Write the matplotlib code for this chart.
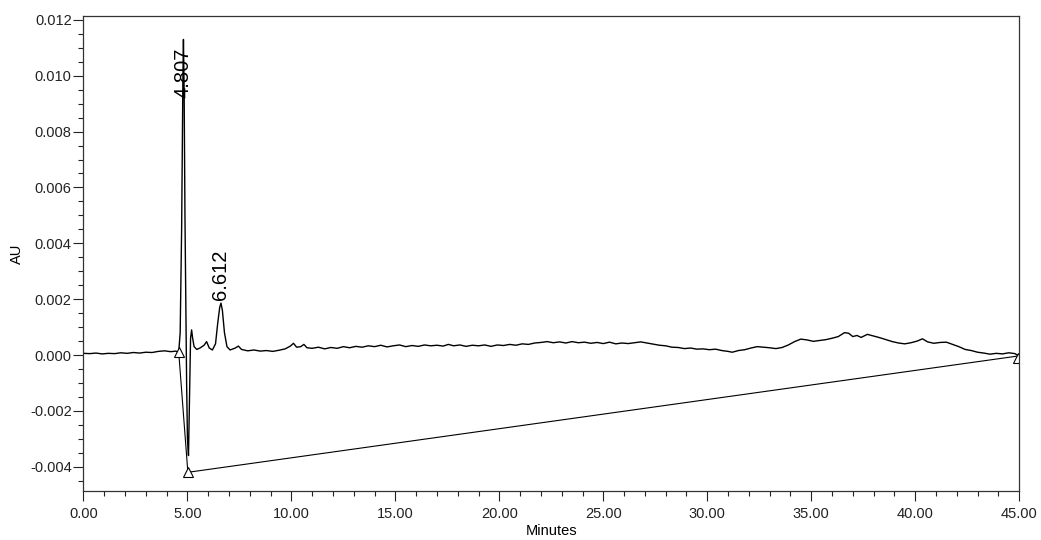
# chromatogram recreation - AU vs minutes
import matplotlib
matplotlib.use("Agg")
import matplotlib.pyplot as plt
from matplotlib.ticker import MultipleLocator, FormatStrFormatter

plt.rcParams['font.family'] = ['Liberation Sans', 'DejaVu Sans']

# trace (minutes, AU)
time_min = [0.0, 0.3, 0.6, 0.9, 1.2, 1.5, 1.8, 2.1, 2.4, 2.7, 3.0, 3.3, 3.6, 3.9, 4.2, 4.45,
            4.50, 4.58, 4.65, 4.72, 4.78, 4.807, 4.84, 4.88, 4.92, 4.96, 5.00, 5.05, 5.10,
            5.15, 5.20, 5.25, 5.32, 5.45, 5.60, 5.80, 5.92, 6.05, 6.20, 6.35, 6.45, 6.55,
            6.612, 6.68, 6.78, 6.90, 7.05, 7.30, 7.45, 7.60, 7.9, 8.2, 8.5, 8.8, 9.1, 9.4,
            9.7, 9.95, 10.1, 10.25, 10.45, 10.6, 10.75, 11.0, 11.3, 11.6, 11.9, 12.2, 12.5,
            12.8, 13.1, 13.4, 13.7, 14.0, 14.3, 14.6, 14.9, 15.2, 15.5, 15.8, 16.1, 16.4,
            16.7, 17.0, 17.3, 17.55, 17.8, 18.1, 18.4, 18.7, 19.0, 19.3, 19.6, 19.9, 20.2,
            20.5, 20.8, 21.1, 21.4, 21.7, 22.0, 22.3, 22.6, 22.9, 23.2, 23.5, 23.8, 24.1,
            24.4, 24.7, 25.0, 25.3, 25.6, 25.9, 26.2, 26.5, 26.8, 27.1, 27.4, 27.7, 28.0,
            28.3, 28.6, 28.9, 29.2, 29.5, 29.8, 30.1, 30.4, 30.7, 31.0, 31.2, 31.5, 31.8,
            32.1, 32.4, 32.7, 33.0, 33.3, 33.6, 33.9, 34.2, 34.5, 34.8, 35.1, 35.4, 35.7,
            36.0, 36.3, 36.6, 36.8, 37.0, 37.2, 37.4, 37.7, 38.0, 38.3, 38.6, 38.9, 39.2,
            39.5, 39.8, 40.1, 40.35, 40.6, 40.9, 41.2, 41.5, 41.8, 42.1, 42.4, 42.7, 43.0,
            43.3, 43.6, 43.9, 44.2, 44.5, 44.8, 45.0]
au = [0.00006, 0.00005, 0.00007, 0.00004, 0.00006, 0.00005, 0.00008, 0.00006, 0.00009,
      0.00007, 0.00010, 0.00009, 0.00013, 0.00015, 0.00012, 0.00014,
      0.00012, 0.00010, 0.0008, 0.0045, 0.0098, 0.0113, 0.0095, 0.0050, 0.0020, -0.0010,
      -0.0030, -0.0036, -0.0015, 0.0006, 0.0009, 0.0006, 0.0003, 0.0002, 0.00025,
      0.00035, 0.00048, 0.00025, 0.00018, 0.0004, 0.0011, 0.0017, 0.00186, 0.0016,
      0.0008, 0.0003, 0.00018, 0.00025, 0.00032, 0.0002, 0.00015, 0.00018, 0.00014,
      0.00016, 0.00013, 0.00017, 0.00022, 0.00032, 0.00042, 0.00028, 0.00030, 0.00038,
      0.00026, 0.00024, 0.00028, 0.00022, 0.00027, 0.00024, 0.00030, 0.00026, 0.00031,
      0.00028, 0.00033, 0.00030, 0.00035, 0.00029, 0.00033, 0.00036, 0.00030, 0.00034,
      0.00031, 0.00036, 0.00033, 0.00035, 0.00032, 0.00038, 0.00033, 0.00036, 0.00031,
      0.00035, 0.00033, 0.00036, 0.00031, 0.00036, 0.00034, 0.00038, 0.00035, 0.00040,
      0.00038, 0.00043, 0.00045, 0.00048, 0.00044, 0.00047, 0.00043, 0.00048, 0.00044,
      0.00046, 0.00042, 0.00045, 0.00041, 0.00046, 0.00040, 0.00043, 0.00041, 0.00044,
      0.00047, 0.00043, 0.00039, 0.00035, 0.00033, 0.00028, 0.00027, 0.00023, 0.00025,
      0.00021, 0.00022, 0.00019, 0.00021, 0.00016, 0.00013, 0.00010, 0.00016, 0.00019,
      0.00025, 0.00030, 0.00028, 0.00026, 0.00023, 0.00027, 0.00036, 0.00048, 0.00057,
      0.00054, 0.00049, 0.00052, 0.00055, 0.00060, 0.00066, 0.00080, 0.00078, 0.00066,
      0.00070, 0.00063, 0.00074, 0.00068, 0.00062, 0.00055, 0.00048, 0.00043, 0.00040,
      0.00044, 0.00050, 0.00058, 0.00047, 0.00042, 0.00045, 0.00046, 0.00038, 0.00030,
      0.00020, 0.00016, 0.00010, 0.00007, 0.00003, 0.00006, 0.00004, 0.00008, 0.00005,
      -0.00004]

# integration baseline (start / end markers)
base_t = [4.58, 5.02, 45.0]
base_au = [0.00010, -0.0042, -0.00003]
marker_t = [4.58, 5.02, 44.95]
marker_au = [0.00010, -0.0042, -0.00012]

peak_times = [4.807, 6.612]
peak_labels = ["4.807", "6.612"]
label_y = [0.0110, 0.00196]

fig = plt.figure(figsize=(10.41, 5.40), dpi=100)
ax = fig.add_axes([0.0802, 0.0907, 0.8988, 0.8797])

ax.plot(time_min, au, color='black', lw=1.0)
ax.plot(base_t, base_au, color='black', lw=0.8)
ax.plot(marker_t, marker_au, linestyle='none', marker='^', ms=7,
        mfc='white', mec='black', mew=0.8)

# peak labels, rotated like in the software output
ax.text(peak_times[0], label_y[0], peak_labels[0], rotation=90,
        ha='center', va='top', fontsize=14.5)
ax.text(peak_times[1], label_y[1], peak_labels[1], rotation=90,
        ha='center', va='bottom', fontsize=14.5)

ax.set_xlim(0, 45)
ax.set_ylim(-0.00487, 0.01214)
ax.xaxis.set_major_locator(MultipleLocator(5))
ax.xaxis.set_minor_locator(MultipleLocator(1))
ax.yaxis.set_major_locator(MultipleLocator(0.002))
ax.yaxis.set_minor_locator(MultipleLocator(0.0005))
ax.xaxis.set_major_formatter(FormatStrFormatter('%.2f'))
ax.yaxis.set_major_formatter(FormatStrFormatter('%.3f'))
ax.tick_params(which='major', length=7.5, width=0.8, labelsize=10.5, colors='#222222')
ax.tick_params(axis='x', which='major', pad=4)
ax.tick_params(axis='y', which='major', pad=1)
ax.tick_params(which='minor', length=3.5, width=0.8, colors='#222222')
for s in ax.spines.values():
    s.set_linewidth(0.9)
    s.set_color('#333333')

ax.set_xlabel("Minutes", fontsize=10.5, labelpad=2)
ax.set_ylabel("AU", fontsize=10.5, labelpad=4)

fig.savefig("out.png", dpi=100)
